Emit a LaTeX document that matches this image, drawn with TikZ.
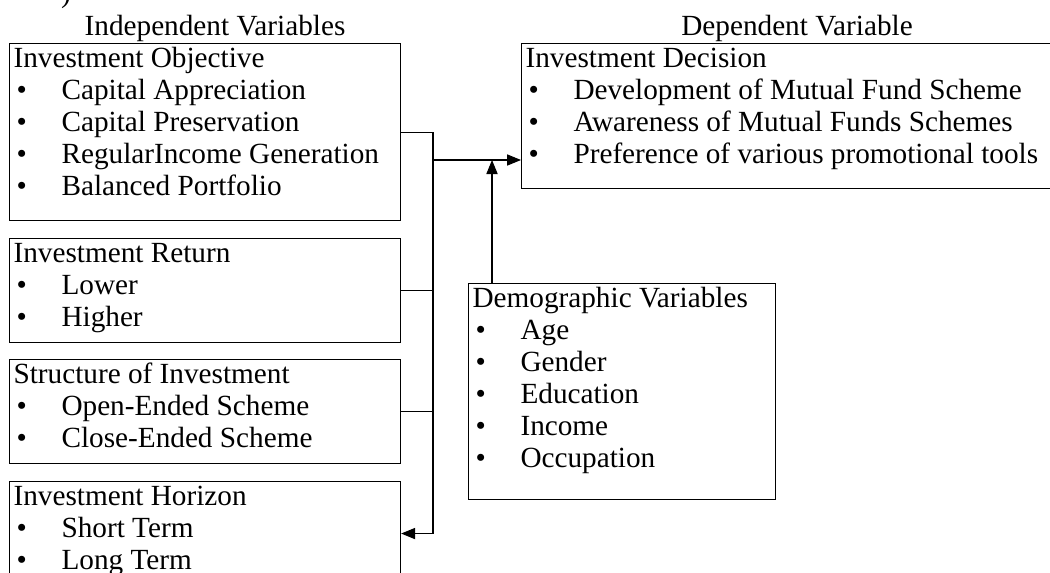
\documentclass[tikz,border=0pt]{standalone}
\usepackage{fontspec}
\setmainfont{Liberation Serif}
\usetikzlibrary{arrows.meta,calc}

\newcommand{\bitem}[1]{\\\makebox[12mm][l]{\hspace{0.8mm}\textbullet}#1}
\newcommand{\vlist}[3]{\parbox[t][#1][t]{#2}{\strut #3}}

\begin{document}
\begin{tikzpicture}[x=0.025cm,y=-0.025cm,>={Triangle[length=3.5mm,width=2.8mm]},line width=0.75pt]
        \tikzstyle{every node} = [font=\fontsize{20.8pt}{22.76pt}\selectfont]
        \tikzstyle{varbox} = [draw, anchor=north west, inner xsep=1mm, inner ysep=0.5mm]
        \useasboundingbox (0,0) rectangle (1050,572);

        \node[anchor=base] (paren) at (66,2) {)};
        \node[anchor=base] (indep) at (215,35) {Independent Variables};
        \node[anchor=base] (dep) at (797,35) {Dependent Variable};

        % independent variables
        \node[varbox] (obj) at (9,43) {\vlist{43.25mm}{95.75mm}{Investment Objective
            \bitem{Capital Appreciation}\bitem{Capital Preservation}
            \bitem{RegularIncome Generation}\bitem{Balanced Portfolio}}};
        \node[varbox] (ret) at (9,238) {\vlist{25mm}{95.75mm}{Investment Return
            \bitem{Lower}\bitem{Higher}}};
        \node[varbox] (str) at (9,359) {\vlist{25mm}{95.75mm}{Structure of Investment
            \bitem{Open-Ended Scheme}\bitem{Close-Ended Scheme}}};
        \node[varbox] (hor) at (9,481) {\vlist{25mm}{95.75mm}{Investment Horizon
            \bitem{Short Term}\bitem{Long Term}}};

        % dependent variable
        \node[varbox] (dec) at (521,43) {\vlist{35.25mm}{132.75mm}{Investment Decision
            \bitem{Development of Mutual Fund Scheme}
            \bitem{Awareness of Mutual Funds Schemes}
            \bitem{Preference of various promotional tools}}};

        % demographic variables
        \node[varbox] (demo) at (468,283) {\vlist{53mm}{74.75mm}{Demographic Variables
            \bitem{Age}\bitem{Gender}\bitem{Education}\bitem{Income}\bitem{Occupation}}};

        \coordinate (jn) at (433,160);
        \draw[->] (obj.east) -- (obj.east -| jn) |- (hor.east);
        \foreach \v in {ret, str}
            \draw (\v.east) -- (\v.east -| jn);
        \draw[->] (jn) -- (jn -| dec.west);
        \coordinate (up) at ($(demo.north west)+(24,0)$);
        \draw[->] (up) -- (up |- jn);
\end{tikzpicture}
\end{document}
